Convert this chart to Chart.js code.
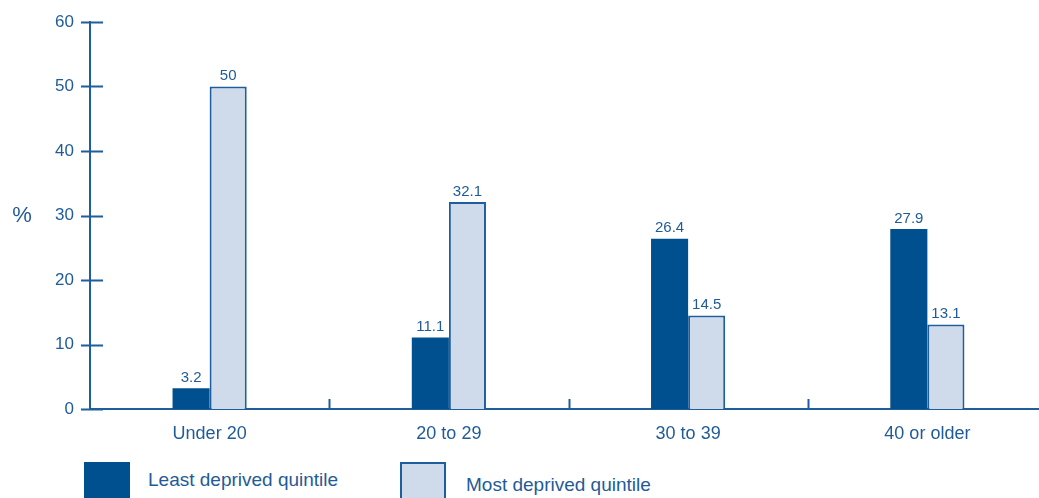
<!DOCTYPE html>
<html>
<head>
    <title>Deprivation by age group</title>
    <script src="https://cdn.jsdelivr.net/npm/chart.js@4.4.1/dist/chart.umd.min.js"></script>
    <style>
        body {
            margin: 0;
            background: #fff;
            overflow: hidden;
            font-family: "Liberation Sans", Arial, sans-serif;
        }
        .chart-container {
            position: relative;
            width: 1050px;
            height: 460px;
        }
        .legend {
            position: absolute;
            top: 462px;
            left: 0;
            width: 1039px;
            height: 60px;
        }
        .legend .box {
            position: absolute;
            top: 0;
            width: 46px;
            height: 44px;
            box-sizing: border-box;
        }
        .legend .text {
            position: absolute;
            font-size: 19px;
            color: #1f5b98;
            white-space: nowrap;
        }
    </style>
</head>
<body>
    <div class="chart-container">
        <canvas id="ageChart"></canvas>
    </div>
    <div class="legend" id="legend"></div>

    <script>
        const categories = ['Under 20', '20 to 29', '30 to 39', '40 or older'];
        const leastDeprived = [3.2, 11.1, 26.4, 27.9];
        const mostDeprived = [50, 32.1, 14.5, 13.1];
        const yTicks = [0, 10, 20, 30, 40, 50, 60];

        const axisColor = '#1f5e9c';
        const textColor = '#1f5b98';
        const darkBlue = '#00508f';
        const lightBlue = '#cfdbeb';

        // short tick marks across the y axis and between categories on the x axis
        const axisTicks = {
            id: 'axisTicks',
            afterDraw(chart) {
                const ctx = chart.ctx;
                const area = chart.chartArea;
                const x = chart.scales.x;
                const y = chart.scales.y;
                ctx.save();
                ctx.strokeStyle = axisColor;
                ctx.lineWidth = 2;
                ctx.beginPath();
                y.ticks.forEach((t, i) => {
                    const py = Math.round(y.getPixelForTick(i)) + 0.5;
                    ctx.moveTo(area.left - 9, py);
                    ctx.lineTo(area.left + 13, py);
                });
                for (let i = 0; i < categories.length; i++) {
                    const px = Math.round((x.getPixelForTick(i) + x.getPixelForTick(i) + x.width / categories.length) / 2) + 0.5;
                    ctx.moveTo(px, area.bottom);
                    ctx.lineTo(px, area.bottom - 10);
                }
                ctx.stroke();

                // "%" axis title
                ctx.fillStyle = textColor;
                ctx.font = '22px "Liberation Sans", Arial, sans-serif';
                ctx.textAlign = 'center';
                ctx.textBaseline = 'middle';
                ctx.fillText('%', area.left - 68, (area.top + area.bottom) / 2);
                ctx.restore();
            }
        };

        // value labels above each bar
        const valueLabels = {
            id: 'valueLabels',
            afterDatasetsDraw(chart) {
                const ctx = chart.ctx;
                ctx.save();
                ctx.fillStyle = textColor;
                ctx.font = '15px "Liberation Sans", Arial, sans-serif';
                ctx.textAlign = 'center';
                ctx.textBaseline = 'bottom';
                chart.data.datasets.forEach((ds, di) => {
                    chart.getDatasetMeta(di).data.forEach((bar, i) => {
                        ctx.fillText(String(ds.data[i]), bar.x, bar.y - 3);
                    });
                });
                ctx.restore();
            }
        };

        const chart = new Chart(document.getElementById('ageChart'), {
            type: 'bar',
            data: {
                labels: categories,
                datasets: [{
                    label: 'Least deprived quintile',
                    data: leastDeprived,
                    backgroundColor: darkBlue,
                    borderColor: darkBlue,
                    borderWidth: 0
                }, {
                    label: 'Most deprived quintile',
                    data: mostDeprived,
                    backgroundColor: lightBlue,
                    borderColor: axisColor,
                    borderWidth: 2
                }]
            },
            options: {
                responsive: true,
                maintainAspectRatio: false,
                animation: false,
                layout: {
                    padding: { top: 22, right: 3, left: 0, bottom: 0 }
                },
                datasets: {
                    bar: {
                        categoryPercentage: 0.31,
                        barPercentage: 1
                    }
                },
                scales: {
                    x: {
                        grid: { display: false, drawTicks: false },
                        border: { display: true, color: axisColor, width: 2 },
                        ticks: {
                            color: textColor,
                            padding: 14,
                            font: { family: '"Liberation Sans", Arial, sans-serif', size: 18 }
                        },
                        afterFit(scale) {
                            scale.height = 51;
                            scale.paddingLeft = 0;
                            scale.paddingRight = 0;
                        }
                    },
                    y: {
                        min: 0,
                        max: 60,
                        afterBuildTicks(scale) {
                            scale.ticks = yTicks.map(v => ({ value: v }));
                        },
                        grid: { display: false, drawTicks: false },
                        border: { display: true, color: axisColor, width: 2 },
                        ticks: {
                            color: textColor,
                            padding: 16,
                            font: { family: '"Liberation Sans", Arial, sans-serif', size: 17 }
                        },
                        afterFit(scale) {
                            scale.width = 90;
                            scale.paddingTop = 0;
                            scale.paddingBottom = 0;
                        }
                    }
                },
                plugins: {
                    legend: { display: false },
                    tooltip: { enabled: false }
                }
            },
            plugins: [axisTicks, valueLabels]
        });

        // legend under the chart, built from the datasets
        const legendPos = [{ box: 84, text: 148, top: 7 }, { box: 400, text: 466, top: 12 }];
        const legend = document.getElementById('legend');
        chart.data.datasets.forEach((ds, i) => {
            const box = document.createElement('div');
            box.className = 'box';
            box.style.left = legendPos[i].box + 'px';
            box.style.background = ds.backgroundColor;
            if (ds.borderWidth) box.style.border = '2px solid ' + ds.borderColor;
            legend.appendChild(box);
            const text = document.createElement('div');
            text.className = 'text';
            text.style.left = legendPos[i].text + 'px';
            text.style.top = legendPos[i].top + 'px';
            text.textContent = ds.label;
            legend.appendChild(text);
        });
    </script>
</body>
</html>
